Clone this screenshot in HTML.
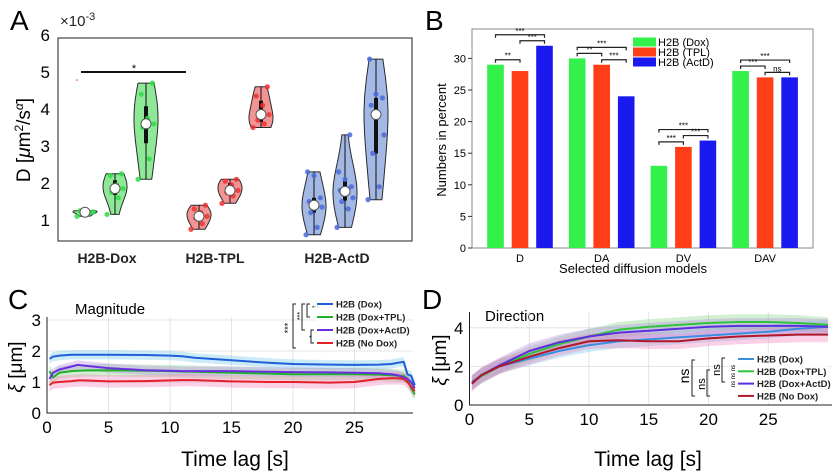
<!DOCTYPE html>
<html><head><meta charset="utf-8">
<style>
html,body{margin:0;padding:0;background:#fff;}
svg{display:block;font-family:"Liberation Sans",Arial,sans-serif;}
</style></head>
<body>
<svg id="fig" width="835" height="475" viewBox="0 0 835 475" xmlns="http://www.w3.org/2000/svg">
<g>
<text x="10" y="30" font-size="28">A</text>
<text x="60" y="26" font-size="15" fill="#222">×10<tspan dy="-6" font-size="11">-3</tspan></text>
<rect x="58" y="38" width="354" height="203" fill="none" stroke="#444" stroke-width="1.2"/>
<text transform="translate(30,140) rotate(-90)" text-anchor="middle" font-size="19">D [<tspan font-style="italic">μ</tspan>m<tspan dy="-7" font-size="12">2</tspan><tspan dy="7">/s</tspan><tspan dy="-7" font-size="12" font-style="italic">α</tspan><tspan dy="7">]</tspan></text>
<g id="aTicks"></g>
<g id="aViolins"></g>
<line x1="81" y1="72" x2="186" y2="72" stroke="#111" stroke-width="2"/>
<text x="134" y="72" text-anchor="middle" font-size="11">*</text>
<circle cx="77" cy="80" r="0.8" fill="#e33"/>
</g>
<g>
<text x="425" y="30" font-size="28">B</text>
<g id="bPlot"></g>
<text transform="translate(446,140) rotate(-90)" text-anchor="middle" font-size="13">Numbers in percent</text>
<text x="633" y="273" text-anchor="middle" font-size="13">Selected diffusion models</text>
</g>
<g>
<text x="8" y="309" font-size="28">C</text>
<text x="75" y="314" font-size="15">Magnitude</text>
<g id="cPlot"></g>
<text transform="translate(22,367) rotate(-90)" text-anchor="middle" font-size="19"><tspan font-style="italic">ξ</tspan> [μm]</text>
<text x="235" y="466" text-anchor="middle" font-size="21">Time lag [s]</text>
<g stroke="#222" fill="none" stroke-width="1">
<path d="M296,304 h-3 v44 h3"/><path d="M305,304 h-3 v26 h3"/><path d="M310,304 h-3 v13 h3"/><path d="M314,330 h-3 v13 h3"/>
</g>
<text x="289" y="330" font-size="9" transform="rotate(-90 289 328)" text-anchor="middle">***</text>
<text x="300" y="318" font-size="7" transform="rotate(-90 300 316)" text-anchor="middle">***</text>
<text x="312" y="310" font-size="6">***</text>
<text x="309" y="340" font-size="6">*</text>
<g id="cLegend"></g>
</g>
<g>
<text x="422" y="309" font-size="28">D</text>
<text x="485" y="321" font-size="15">Direction</text>
<g id="dPlot"></g>
<text transform="translate(446,360) rotate(-90)" text-anchor="middle" font-size="19"><tspan font-style="italic">ξ</tspan> [μm]</text>
<text x="648" y="466" text-anchor="middle" font-size="21">Time lag [s]</text>
<g stroke="#222" fill="none" stroke-width="1">
<path d="M695,360 h-3 v36 h3"/><path d="M710,370 h-3 v26 h3"/><path d="M725,358 h-3 v24 h3"/>
</g>
<text font-size="14" transform="translate(689,376) rotate(-90)" text-anchor="middle">ns</text>
<text font-size="11" transform="translate(705,384) rotate(-90)" text-anchor="middle">ns</text>
<text font-size="11" transform="translate(720,370) rotate(-90)" text-anchor="middle">ns</text>
<text font-size="6" transform="translate(735,376) rotate(-90)" text-anchor="middle">ns ns ns</text>
<g id="dLegend"></g>
</g>
</svg>
<script>
// ---------- Panel A data ----------
const aGroups = ["H2B-Dox","H2B-TPL","H2B-ActD"];
const aYTicks = [1,2,3,4,5,6];
const aDox1 = [1.1,1.15,1.2,1.22,1.25,1.25];
const aDox2 = [1.15,1.6,1.75,1.85,1.95,2.2,2.25];
const aDox3 = [2.1,2.65,3.5,3.6,3.75,4.4,4.7];
const aTpl1 = [0.75,0.9,1.05,1.1,1.2,1.3,1.4];
const aTpl2 = [1.45,1.65,1.75,1.8,1.95,2.05,2.1];
const aTpl3 = [3.5,3.6,3.7,3.85,4.1,4.35,4.6];
const aAct1 = [0.6,0.8,1.2,1.35,1.4,1.5,1.6,2.2,2.3];
const aAct2 = [0.8,1.3,1.5,1.6,1.75,1.8,1.9,2.1,2.3,3.3];
const aAct3 = [1.55,1.9,2.8,3.3,3.85,4.1,4.3,4.4,5.35];
// ---------- Panel B data ----------
const bCategories = ["D","DA","DV","DAV"];
const bDox = [29,30,13,28];
const bTpl = [28,29,16,27];
const bActD = [32,24,17,27];
const bYTicks = [0,5,10,15,20,25,30];
const bSeriesNames = ["H2B (Dox)","H2B (TPL)","H2B (ActD)"];
// ---------- Panel C data ----------
const cTime = [0.2,0.5,1,2,2.5,3,5,8,10,11,12,15,18,20,23,25,27,28,28.5,29,29.3,29.6,29.9];
const cDox   = [1.75,1.82,1.85,1.88,1.88,1.88,1.88,1.87,1.85,1.83,1.78,1.7,1.62,1.58,1.56,1.55,1.56,1.58,1.62,1.65,1.25,1.2,0.9];
const cTpl   = [1.35,1.15,1.3,1.35,1.36,1.37,1.38,1.36,1.35,1.34,1.33,1.3,1.27,1.25,1.25,1.25,1.24,1.22,1.2,1.2,1.1,0.8,0.6];
const cActD  = [1.1,1.3,1.4,1.5,1.55,1.53,1.45,1.38,1.36,1.35,1.35,1.35,1.33,1.32,1.31,1.3,1.28,1.25,1.22,1.15,1.1,1.0,0.8];
const cNoDox = [0.9,0.98,1.0,1.03,1.05,1.05,1.02,1.03,1.05,1.06,1.06,1.02,1.0,1.0,0.98,1.0,1.1,1.12,1.12,1.1,1.0,0.85,0.7];
const cErr   = [0.15,0.2,0.15,0.2];
const cXTicks = [0,5,10,15,20,25];
const cYTicks = [0,1,2,3];
// ---------- Panel D data ----------
const dTime = [0.2,1,2.5,5,7.5,10,12.5,15,17.5,20,22.5,25,27.5,30];
const dDox   = [1.2,1.5,2.0,2.4,2.8,3.1,3.3,3.4,3.5,3.6,3.7,3.8,3.95,4.05];
const dTpl   = [1.15,1.5,2.0,2.65,3.15,3.55,3.9,4.05,4.15,4.25,4.3,4.3,4.25,4.15];
const dActD  = [1.15,1.55,2.05,2.8,3.25,3.55,3.75,3.85,3.95,4.05,4.1,4.1,4.1,4.05];
const dNoDox = [1.1,1.55,2.0,2.5,2.95,3.3,3.35,3.3,3.3,3.45,3.55,3.6,3.65,3.65];
const dErr   = [0.35,0.4,0.4,0.4];
const dXTicks = [0,5,10,15,20,25];
const dYTicks = [0,2,4];
const seriesLabels = ["H2B (Dox)","H2B (Dox+TPL)","H2B (Dox+ActD)","H2B (No Dox)"];

const NS="http://www.w3.org/2000/svg";
function mk(parent,tag,attrs,txt){const e=document.createElementNS(NS,tag);for(const k in attrs)e.setAttribute(k,attrs[k]);if(txt!==undefined)e.textContent=txt;parent.appendChild(e);return e;}

// ===== Panel A =====
(function(){
const yA=v=>220-(v-1)*37;
const g=document.getElementById('aTicks');
aYTicks.forEach(t=>{const e=mk(g,'text',{x:50,y:yA(t)+6,'text-anchor':'end','font-size':17},t);

});
const gx=[107,215,337];
aGroups.forEach((n,i)=>{const e=mk(g,'text',{x:gx[i],y:263,'text-anchor':'middle','font-size':14,'font-weight':'bold',fill:'#222'},n);

});
const vg=document.getElementById('aViolins');
const sets=[[aDox1,85,0],[aDox2,115,0],[aDox3,146,0],[aTpl1,199,1],[aTpl2,230,1],[aTpl3,261,1],[aAct1,314,2],[aAct2,345,2],[aAct3,376,2]];
const fills=['#8ee898','#f39494','#a3b8e2'],dots=['#2fdc44','#ee3030','#4a68dc'];
sets.forEach((s,si)=>{
 const d=s[0].slice().sort((a,b)=>a-b),cx=s[1],c=s[2];
 const lo=d[0],hi=d[d.length-1],range=Math.max(hi-lo,0.1),bw=range*0.28;
 const N=30,ys=[],ws=[];
 for(let k=0;k<=N;k++){const v=lo+range*k/N;let den=0;d.forEach(p=>{den+=Math.exp(-0.5*((v-p)/bw)**2);});ys.push(v);ws.push(den);}
 const mx=Math.max(...ws);
 let path='';ys.forEach((v,k)=>{path+=(k?'L':'M')+(cx+ws[k]/mx*12).toFixed(1)+','+yA(v).toFixed(1);});
 for(let k=N;k>=0;k--){path+='L'+(cx-ws[k]/mx*12).toFixed(1)+','+yA(ys[k]).toFixed(1);}
 path+='Z';
 const vp=mk(vg,'path',{d:path,fill:fills[c],stroke:'#2b2b2b','stroke-width':1});
 
 
 const q=p=>{const i=(d.length-1)*p,f=Math.floor(i);return d[f]+(d[Math.min(f+1,d.length-1)]-d[f])*(i-f);};
 const wl=mk(vg,'line',{x1:cx,x2:cx,y1:yA(lo),y2:yA(hi),stroke:'#111','stroke-width':1});
 
 
 const bx=mk(vg,'line',{x1:cx,x2:cx,y1:yA(q(0.25)),y2:yA(q(0.75)),stroke:'#111','stroke-width':4});
 
 
 d.forEach((p,pi)=>{const dt=mk(vg,'circle',{cx:cx+((pi*7)%11-5)*1.6,cy:yA(p),r:2.6,fill:dots[c],opacity:0.85});
 
 });
 const md=mk(vg,'circle',{cx:cx,cy:yA(q(0.5)),r:5,fill:'#fff',stroke:'#555','stroke-width':1});
 
 
});
})();

// ===== Panel B =====
(function(){
const g=document.getElementById('bPlot');
const L=472,R=813,T=29,B=248,yB=v=>B-v*6.32;
const ax=mk(g,'rect',{x:L,y:T,width:R-L,height:B-T,fill:'none',stroke:'#888','stroke-width':1});


bYTicks.forEach(t=>{mk(g,'line',{x1:L-4,x2:L,y1:yB(t),y2:yB(t),stroke:'#333'});
const e=mk(g,'text',{x:L-6,y:yB(t)+4,'text-anchor':'end','font-size':11},t);

});
const series=[bDox,bTpl,bActD],cols=['#33f04a','#ff3d17','#1a1af0'];
bCategories.forEach((c,i)=>{const gc=520+i*81.7;
 const lb=mk(g,'text',{x:gc,y:262,'text-anchor':'middle','font-size':11},c);
 
 
 series.forEach((s,si)=>{const cx=gc+(si-1)*24.5;
  const r=mk(g,'rect',{x:cx-8.3,y:yB(s[i]),width:16.6,height:yB(0)-yB(s[i]),fill:cols[si]});
  
  });
 const top=(a,b)=>Math.min(yB(series[a][i]),yB(series[b][i]));
 const drawBr=(x1,x2,y,txt)=>{
  const p=mk(g,'path',{d:`M${x1},${y+3}V${y}H${x2}V${y+3}`,fill:'none',stroke:'#222','stroke-width':1.2});
  
  
  const t=mk(g,'text',{x:(x1+x2)/2,y:y-1,'text-anchor':'middle','font-size':8},txt);
  
  };
 const s01=['**','**','***','***'][i],s12=['***','***','***','ns'][i];
 const y01=top(0,1)-5,y12=top(1,2)-5;
 drawBr(gc-24.5,gc,y01,s01);
 drawBr(gc,gc+24.5,y12,s12);
 drawBr(gc-24.5,gc+24.5,Math.min(y01,y12)-6,'***');
});
bSeriesNames.forEach((n,i)=>{const y=42+i*10;
 const r=mk(g,'rect',{x:633,y:y-4.5,width:23,height:9,fill:cols[i]});
 
 
 const t=mk(g,'text',{x:658,y:y+4,'font-size':11},n);
 
 });
})();

// ===== line panels =====
const lineCols=['#1f5fd8','#23b02a','#6a2fe0','#e3202a'];
const bandCols=['#6cc6ee','#7fd07f','#b58ae8','#f07ab8'];
function linePanel(gid,pre,L,R,T,B,xs,yToPx,xTicks,yTicks,time,series,errs,grid,cols){
 const g=document.getElementById(gid);
 const X=t=>L+t*xs;
 xTicks.forEach(t=>{ if(grid) mk(g,'line',{x1:X(t),x2:X(t),y1:T,y2:B,stroke:'#ddd','stroke-width':0.8});
  const e=mk(g,'text',{x:X(t),y:B+20,'text-anchor':'middle','font-size':17},t);
  
  });
 yTicks.forEach(t=>{ if(grid) mk(g,'line',{x1:L,x2:R,y1:yToPx(t),y2:yToPx(t),stroke:'#ddd','stroke-width':0.8});
  const e=mk(g,'text',{x:L-6,y:yToPx(t)+6,'text-anchor':'end','font-size':17},t);
  
  });
 series.forEach((s,si)=>{let up='',dn='';
  s.forEach((v,k)=>{up+=(k?'L':'M')+X(time[k]).toFixed(1)+','+yToPx(v+errs[si]).toFixed(1);});
  for(let k=s.length-1;k>=0;k--)dn+='L'+X(time[k]).toFixed(1)+','+yToPx(s[k]-errs[si]).toFixed(1);
  const b=mk(g,'path',{d:up+dn+'Z',fill:bandCols[si],opacity:0.35});
  
  });
 series.forEach((s,si)=>{let d='';s.forEach((v,k)=>{d+=(k?'L':'M')+X(time[k]).toFixed(1)+','+yToPx(v).toFixed(1);});
  const l=mk(g,'path',{d:d,fill:'none',stroke:cols[si],'stroke-width':2});
  
  });
 mk(g,'path',{d:`M${L},${T}V${B}H${R}`,fill:'none',stroke:'#222','stroke-width':1});
}
linePanel('cPlot','c',47,413,317,413,12.3,v=>413-v*31,cXTicks,cYTicks,cTime,[cDox,cTpl,cActD,cNoDox],cErr,true,lineCols);
linePanel('dPlot','d',469.5,832,312,405,11.95,v=>405-v*19.3,dXTicks,dYTicks,dTime,[dDox,dTpl,dActD,dNoDox],dErr,true,['#3a8fe0','#2ec43a','#5a2fe0','#b0182a']);
function legend(gid,pre,x,y0,dy,cols){const g=document.getElementById(gid);
 seriesLabels.forEach((n,i)=>{const y=y0+i*dy;
  mk(g,'rect',{x:x-2,y:y-6,width:92,height:12,fill:'#fff',opacity:0.8});
  const l=mk(g,'line',{x1:x,x2:x+16,y1:y,y2:y,stroke:cols[i],'stroke-width':2});
  
  
  const t=mk(g,'text',{x:x+19,y:y+3.5,'font-size':9.5,'font-weight':'bold',fill:'#222'},n);
  
  });}
legend('cLegend','c',317,304,13,lineCols);
legend('dLegend','d',738,359,12.3,['#3a8fe0','#2ec43a','#5a2fe0','#b0182a']);
</script>
</body></html>
